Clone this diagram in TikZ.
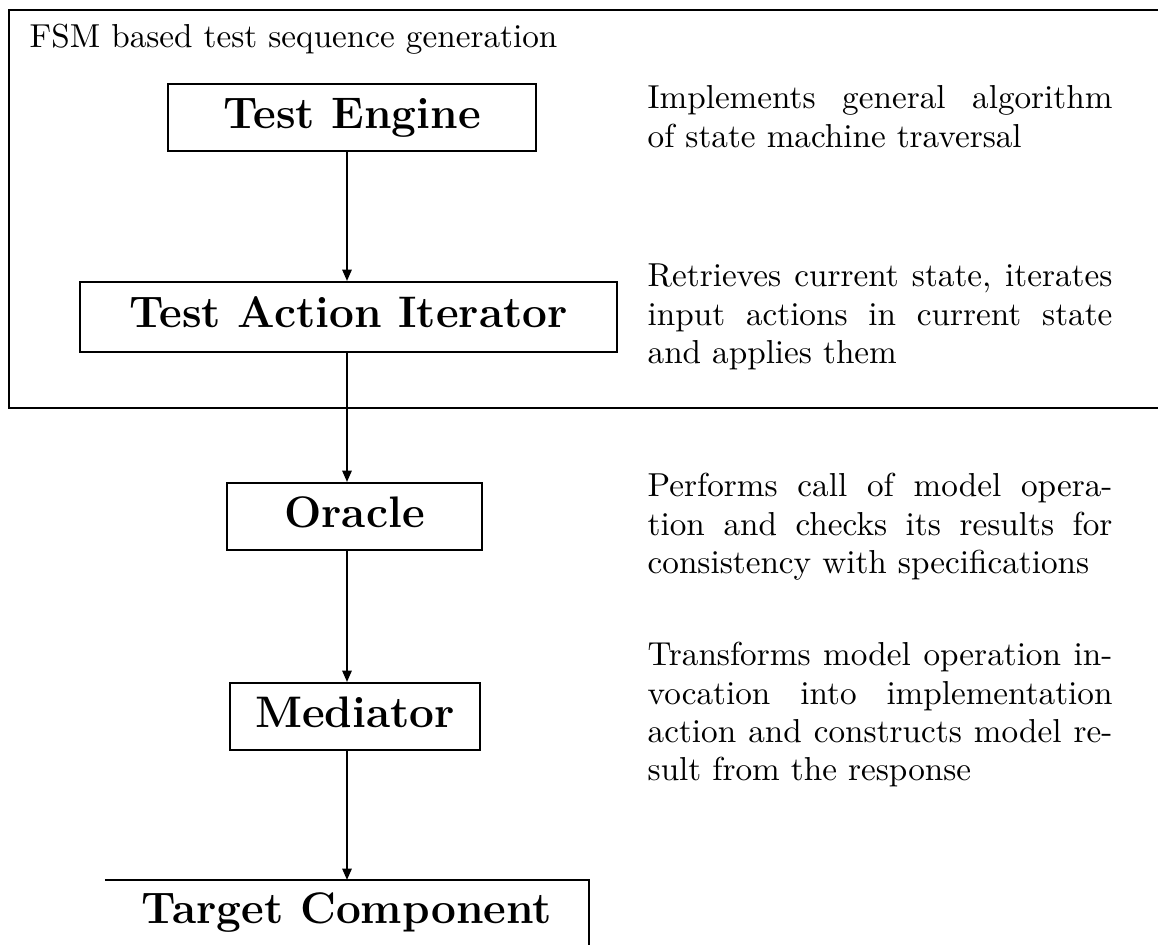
\documentclass[tikz,border=0pt]{standalone}
\usetikzlibrary{arrows.meta}
\begin{document}
\begin{tikzpicture}[x=0.3012pt,y=-0.3012pt,
  box/.style={draw, line width=0.6pt, inner sep=0pt,
    font=\fontsize{13.3}{16}\selectfont\bfseries,
    text height=9.2pt, text depth=2.6pt},
  desc/.style={anchor=base west, inner sep=0pt, text width=140pt,
    align=justify, font=\fontsize{10}{11.45}\selectfont},
  flow/.style={line width=0.55pt, -{Triangle[length=3.4pt,width=2.8pt]}},
  frame/.style={line width=0.75pt}]
\useasboundingbox (0,0) rectangle (1158,945);
% outer frame (right side lies beyond the picture)
\draw[frame] (1170,10) -- (9,10) -- (9,408) -- (1170,408);
\node[anchor=base west, inner sep=0pt, font=\fontsize{10}{12}\selectfont] (title) at (29,48) {FSM based test sequence generation};
% boxes
\node[box, minimum width=110.8pt, minimum height=20.2pt] (te) at (352,117.5) {Test Engine};
\node[box, minimum width=161.7pt, minimum height=21.1pt] (tai) at (348.5,317) {Test Action Iterator};
\node[box, minimum width=76.8pt, minimum height=20.2pt] (or) at (354.5,516.5) {Oracle};
\node[box, minimum width=75.3pt, minimum height=20.2pt] (me) at (355,716.5) {Mediator};
\node[box, draw=none, minimum width=145.2pt, minimum height=19pt] (tc) at (347,912.5) {Target Component};
\draw[line width=0.6pt] (tc.north west) -- (tc.north east) -- ([yshift=-10pt]tc.south east);
% connectors
\coordinate (col) at (347,0);
\draw[flow] (te.south -| col) -- (tai.north -| col);
\draw[flow] (tai.south -| col) -- (or.north -| col);
\draw[flow] (or.south -| col) -- (me.north -| col);
\draw[flow] (me.south -| col) -- (tc.north -| col);
% descriptions
\node[desc] (d1) at (647,109) {Implements general algorithm\linebreak of state machine traversal};
\node[desc] (d2) at (647,287) {Retrieves current state, iterates\linebreak input actions in current state\linebreak and applies them};
\node[desc] (d3) at (647,497) {Performs call of model opera-\linebreak tion and checks its results for\linebreak consistency with specifications};
\node[desc] (d4) at (647,666) {Transforms model operation in-\linebreak vocation into implementation\linebreak action and constructs model re-\linebreak sult from the response};
\end{tikzpicture}
\end{document}
